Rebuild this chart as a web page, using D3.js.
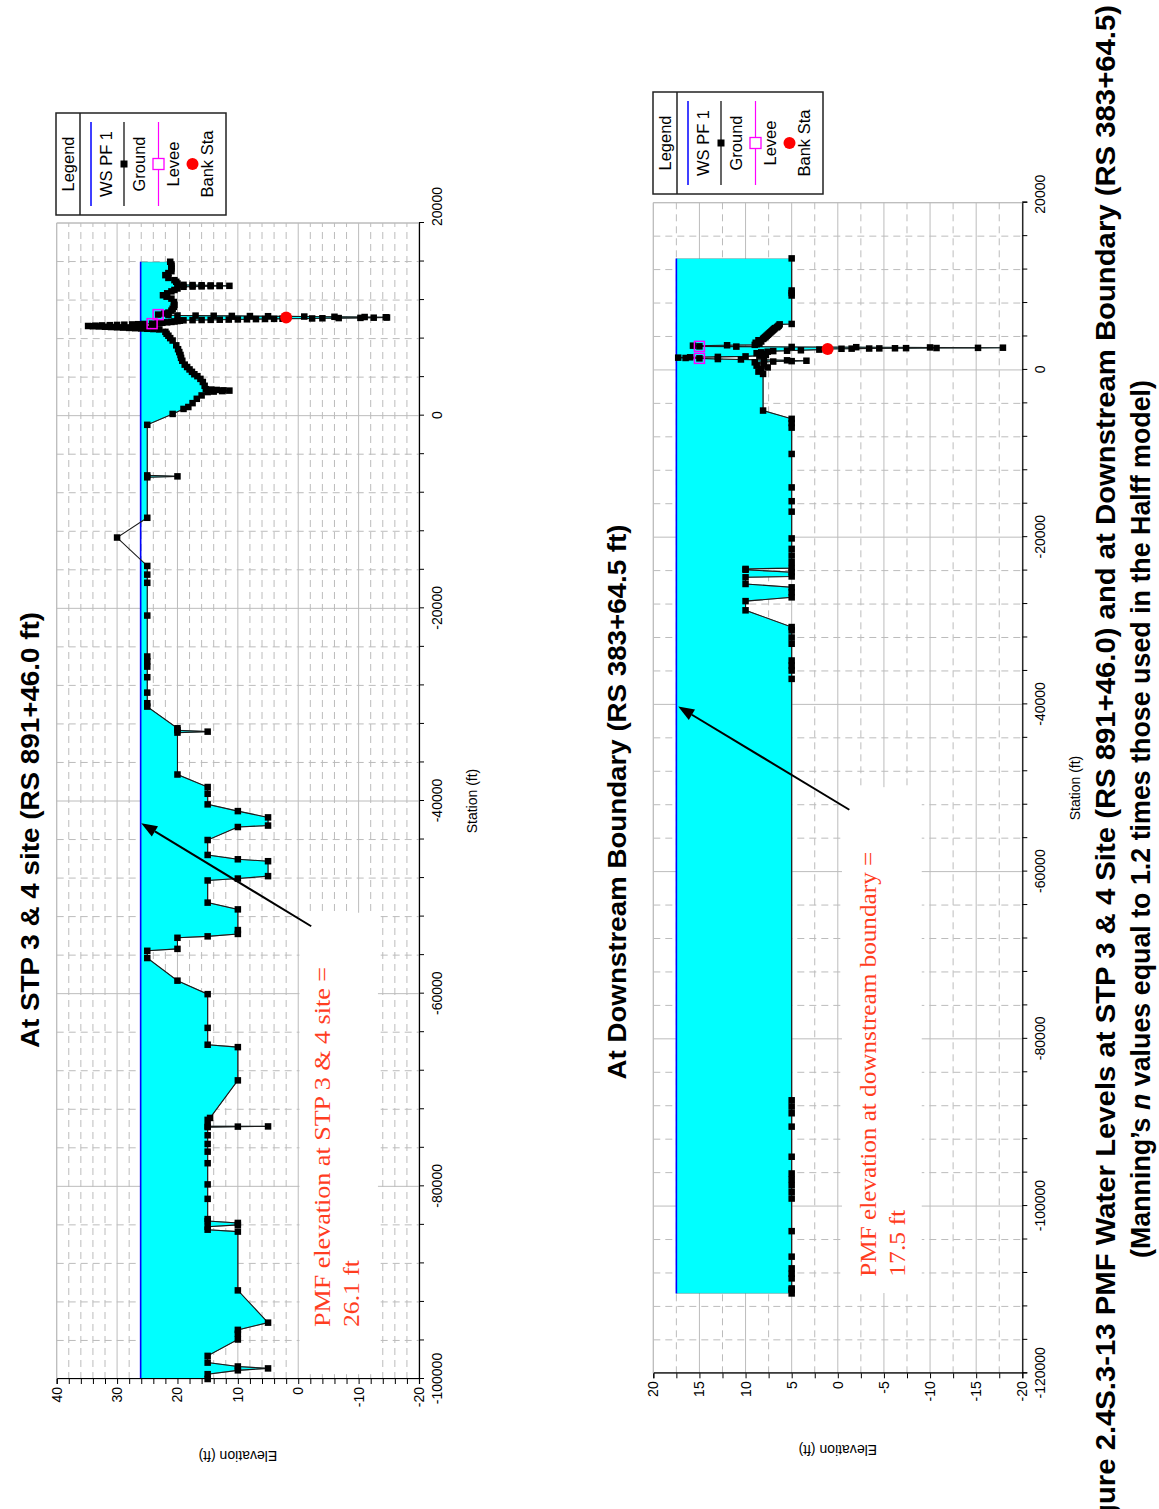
<!DOCTYPE html>
<html>
<head>
<meta charset="utf-8">
<script src="https://cdn.jsdelivr.net/npm/d3@7"></script>
<style>
  body { margin: 0; background: #ffffff; }
  svg { display: block; }
</style>
</head>
<body>
<svg id="fig" width="1159" height="1509" font-family="Arial, 'Liberation Sans', sans-serif"></svg>
<script>
// ---------------- STP 3 & 4 site cross section (RS 891+46.0) ----------------
// ground profile: [station ft, elevation ft]
const stpGround = [
  [-100000, 15], [-99500, 15], [-99100, 10], [-98900, 5], [-98700, 10], [-98300, 15], [-97600, 15],
  [-95900, 10], [-95300, 10], [-94900, 10], [-94150, 5], [-90800, 10],
  [-84700, 10], [-84500, 15], [-84200, 15], [-84000, 10], [-83800, 10], [-83600, 15], [-83400, 15],
  [-81300, 15], [-79800, 15], [-77600, 15], [-76400, 15], [-75600, 15], [-74700, 15],
  [-73850, 15], [-73800, 10], [-73780, 5], [-73760, 15],
  [-73100, 15], [-72900, 14.6], [-69000, 10], [-65550, 10], [-65300, 15], [-63550, 15], [-60050, 15],
  [-58650, 20], [-56300, 25], [-55550, 25], [-55350, 20], [-54200, 20], [-54050, 15],
  [-53800, 10], [-53400, 10], [-51250, 10], [-50550, 15], [-48250, 15],
  [-48050, 10], [-47800, 5], [-46250, 5], [-46050, 10], [-45600, 15], [-44050, 15],
  [-42700, 10], [-42550, 5], [-41700, 5], [-41050, 10], [-40350, 15], [-39250, 15], [-38550, 15],
  [-37250, 20], [-32900, 20], [-32800, 15], [-32650, 20], [-32450, 20],
  [-30200, 25], [-29850, 25], [-28750, 25], [-27150, 25], [-26050, 25], [-25500, 25], [-25000, 25], [-20750, 25],
  [-17350, 25], [-16500, 25], [-15600, 25], [-12650, 30], [-10600, 25],
  [-6400, 25], [-6300, 20], [-6200, 25], [-950, 25],
  [180, 20.8], [700, 19.0], [900, 18.2], [1300, 17.5], [1750, 16.8], [2100, 16.0],
  [2450, 15.0], [2500, 14.0], [2550, 12.6], [2600, 11.4], [2630, 12.4], [2670, 13.5], [2710, 14.4], [2750, 15.3],
  [3100, 15.5], [3500, 15.8], [3820, 16.2], [4100, 16.7], [4300, 17.2], [4550, 17.6], [4800, 18.0],
  [5050, 18.4], [5300, 18.8], [5700, 19.2], [6000, 19.4], [6300, 19.5], [6600, 19.7], [6900, 19.9],
  [7300, 20.2], [7800, 20.8], [8050, 21.2], [8300, 21.5], [8500, 21.8], [8700, 22.0],
  [8950, 23.0], [8990, 24.0], [9020, 25.0], [9050, 26.0], [9080, 27.0], [9110, 28.0], [9140, 29.0],
  [9170, 30.0], [9200, 31.0], [9230, 32.0], [9260, 33.0], [9285, 34.0], [9310, 34.8],
  [9340, 33.6], [9370, 32.5], [9395, 31.2], [9420, 30.0], [9445, 28.8], [9470, 27.5], [9495, 26.5],
  [9520, 25.5], [9553, 24.2], [9600, 23.3], [9640, 22.5], [9690, 21.7], [9730, 21.0], [9780, 20.5], [9820, 20.0],
  [9860, 19.6], [9900, 19.0], [9915, 17.5], [9930, 16.0], [9945, 14.5], [9960, 13.0], [9975, 11.5], [9990, 10.0],
  [10005, 8.5], [10020, 7.0], [10035, 5.5], [10050, 4.0], [10065, 2.6], [10090, -2.3], [10110, -4.0],
  [10130, -6.7], [10150, -10.3], [10170, -12.5], [10190, -14.7], [10215, -14.5], [10240, -11.0],
  [10265, -6.0], [10290, -1.0], [10310, 2.0], [10325, 5.0], [10340, 8.0], [10355, 11.0], [10370, 14.0],
  [10385, 17.0], [10400, 20.0], [10440, 21.5], [10490, 23.2],
  [10600, 22.2], [10700, 21.5], [10900, 21.0], [11100, 20.8], [11300, 20.6], [11500, 20.5], [11800, 20.6],
  [12150, 21.0], [12350, 21.8], [12500, 22.4], [12700, 21.7], [12900, 21.0], [13050, 20.5], [13200, 20.0],
  [13380, 19.0], [13400, 17.5], [13420, 16.0], [13440, 14.5], [13460, 13.0], [13476, 11.4], [13500, 13.0],
  [13520, 14.5], [13540, 16.0], [13560, 17.5], [13580, 19.0],
  [13720, 20.0], [13900, 20.2], [14066, 20.5], [14300, 21.5], [14587, 22.0], [14800, 21.5], [15000, 21.0],
  [15278, 21.0], [15500, 21.0], [15700, 21.0], [15976, 21.2]
];
const stpLevees = [[9553, 24.2], [10490, 23.2]];
const stpBanks = [[10180, 2.0]];
const stpWsElev = 26.1;
const stpWsStations = [-100000, 15976];
const stpStationLabels = [-100000, -80000, -60000, -40000, -20000, 0, 20000];
const stpElevLabels = [-20, -10, 0, 10, 20, 30, 40];

// ---------------- Downstream boundary cross section (RS 383+64.5) ----------------
const dsGround = [
  [-110450, 5], [-110000, 5], [-109850, 5], [-108650, 5], [-108100, 5], [-107450, 5], [-106050, 5], [-103000, 5],
  [-99100, 5], [-98300, 5], [-97500, 5], [-96800, 5], [-96100, 5], [-94100, 5], [-90500, 5], [-88900, 5],
  [-88100, 5], [-87350, 5],
  [-36950, 5], [-35950, 5], [-35350, 5], [-34750, 5], [-32750, 5], [-32000, 5], [-31150, 5], [-30750, 5],
  [-28750, 10], [-27650, 10], [-27200, 5], [-26600, 5], [-26000, 5], [-25600, 10], [-24800, 10], [-24700, 5],
  [-24200, 5], [-23900, 10], [-23800, 10], [-23700, 5], [-23000, 5], [-22200, 5], [-21400, 5], [-20150, 5],
  [-16950, 5], [-15700, 5], [-14050, 5], [-10050, 5], [-6900, 5], [-6350, 5], [-5850, 5], [-4860, 8.1],
  [-480, 8.1], [-200, 8.6], [120, 8.3], [300, 7.6], [514, 8.8], [700, 8.0], [908, 9.0],
  [1000, 7.0], [1050, 5.0], [1100, 3.4], [1150, 5.5], [1200, 8.0], [1250, 10.5], [1300, 13.0], [1386, 15.0],
  [1430, 16.5], [1470, 17.3], [1510, 16.0], [1560, 13.0], [1620, 10.0], [1700, 8.5], [1800, 7.8], [1912, 8.0],
  [2000, 8.8], [2100, 8.3], [2180, 7.6], [2250, 7.0], [2300, 5.5], [2350, 4.0], [2430, 2.0], [2510, 1.1],
  [2530, -0.4], [2545, -1.5], [2560, -3.4], [2575, -4.5], [2590, -6.2], [2605, -7.4], [2620, -10.7],
  [2640, -15.2], [2660, -17.9], [2690, -10.0], [2720, -2.0], [2750, 5.0], [2790, 11.0], [2820, 15.0],
  [2900, 15.7], [2950, 12.0], [3000, 9.0], [3080, 8.8], [3150, 8.5], [3250, 8.9], [3400, 8.3], [3550, 8.6],
  [3705, 8.1], [3800, 8.0], [3900, 7.9], [4000, 7.8], [4100, 7.7], [4200, 7.6], [4300, 7.5], [4400, 7.4],
  [4500, 7.3], [4600, 7.2], [4700, 7.1], [4800, 7.0], [4900, 6.9], [5000, 6.8], [5100, 6.6], [5200, 6.5],
  [5300, 6.4], [5450, 6.3], [5500, 5.0],
  [8900, 5], [9200, 5], [9500, 5], [13340, 5]
];
const dsLevees = [[1386, 15.0], [2820, 15.0]];
const dsBanks = [[2510, 1.1]];
const dsWsElev = 17.5;
const dsWsStations = [-110450, 13340];
const dsStationLabels = [-120000, -100000, -80000, -60000, -40000, -20000, 0, 20000];
const dsElevLabels = [-20, -15, -10, -5, 0, 5, 10, 15, 20];

const svg = d3.select('#fig');
const GRID = '#bcbcbc';
const NOTE = '#ff3d1f';
const SERIF = '"Liberation Serif", "Times New Roman", serif';

// Each panel is laid out in its own unrotated frame (station along x, elevation up)
// and then turned a quarter-turn counter-clockwise onto the page.
function drawPanel(p) {
  const W = p.bottom - p.top;   // station axis length
  const H = p.right - p.left;   // elevation axis length
  const x = d3.scaleLinear().domain(p.stationDomain).range([0, W]);
  const y = d3.scaleLinear().domain(p.elevDomain).range([H, 0]);
  const g = svg.append('g').attr('transform', `translate(${p.left},${p.bottom}) rotate(-90)`);

  // grid: dashed minor, solid major
  const sMinor = d3.range(p.stationDomain[0], p.stationDomain[1] + 1, p.stationMinor);
  const eMinor = d3.range(p.elevDomain[0], p.elevDomain[1] + 0.001, p.elevMinor);
  const grid = g.append('g');
  grid.selectAll('.sg').data(sMinor).join('line')
    .attr('x1', d => x(d)).attr('x2', d => x(d)).attr('y1', 0).attr('y2', H)
    .attr('stroke', GRID).attr('stroke-width', 1)
    .attr('stroke-dasharray', d => p.stationLabels.includes(d) ? null : '7,5');
  grid.selectAll('.eg').data(eMinor).join('line')
    .attr('y1', d => y(d)).attr('y2', d => y(d)).attr('x1', 0).attr('x2', W)
    .attr('stroke', GRID).attr('stroke-width', 1)
    .attr('stroke-dasharray', d => p.elevLabels.includes(d) ? null : '7,5');

  // white panel behind the annotation
  const nb = p.note.box;
  g.append('rect')
    .attr('x', x(nb.s0)).attr('width', x(nb.s1) - x(nb.s0))
    .attr('y', y(nb.e1)).attr('height', y(nb.e0) - y(nb.e1))
    .attr('fill', '#ffffff');

  // water between the WS line and the ground
  const clipId = p.id + '-water';
  g.append('clipPath').attr('id', clipId).append('rect')
    .attr('x', x(p.wsStations[0])).attr('width', x(p.wsStations[1]) - x(p.wsStations[0]))
    .attr('y', y(p.ws)).attr('height', H - y(p.ws));
  const water = d3.area().x(d => x(d[0])).y0(y(p.ws)).y1(d => y(d[1]));
  g.append('path').datum(p.ground).attr('d', water)
    .attr('fill', '#00ffff').attr('stroke', '#5c8c8c').attr('stroke-width', 1)
    .attr('clip-path', `url(#${clipId})`);

  // WS PF 1
  const line = d3.line().x(d => x(d[0])).y(d => y(d[1]));
  g.append('path').datum(p.wsStations.map(s => [s, p.ws])).attr('d', line)
    .attr('fill', 'none').attr('stroke', '#0000ff').attr('stroke-width', 1.6);

  // ground
  g.append('path').datum(p.ground).attr('d', line)
    .attr('fill', 'none').attr('stroke', '#1a1a1a').attr('stroke-width', 1.1);
  const sq = 6.5;
  g.append('g').selectAll('rect').data(p.ground).join('rect')
    .attr('x', d => x(d[0]) - sq / 2).attr('y', d => y(d[1]) - sq / 2)
    .attr('width', sq).attr('height', sq).attr('fill', '#000000');

  // levees
  const lv = 10;
  g.append('g').selectAll('rect').data(p.levees).join('rect')
    .attr('x', d => x(d[0]) - lv / 2).attr('y', d => y(d[1]) - lv / 2)
    .attr('width', lv).attr('height', lv)
    .attr('fill', 'none').attr('stroke', '#ff00ff').attr('stroke-width', 1.5);

  // bank stations
  g.append('g').selectAll('circle').data(p.banks).join('circle')
    .attr('cx', d => x(d[0])).attr('cy', d => y(d[1])).attr('r', 6).attr('fill', '#ff0000');

  // axes
  const xAxis = d3.axisBottom(x).tickValues(sMinor).tickSize(5).tickPadding(8)
    .tickFormat(d => p.stationLabels.includes(d) ? String(d) : '');
  const gx = g.append('g').attr('transform', `translate(0,${H})`).call(xAxis);
  gx.selectAll('text').filter(d => d === p.stationDomain[1]).attr('dx', p.topLabelShift);
  const yAxis = d3.axisLeft(y).tickValues(eMinor).tickSize(5).tickPadding(3)
    .tickFormat(d => p.elevLabels.includes(d) ? String(d) : '');
  const gy = g.append('g').call(yAxis);
  [gx, gy].forEach(a => {
    a.attr('font-family', null).attr('font-size', null);
    a.select('.domain').attr('stroke', '#000').attr('stroke-width', 1.2);
    a.selectAll('.tick line').attr('stroke', '#000');
    a.selectAll('text').attr('font-size', 14).attr('fill', '#000');
  });
  // top and left frame edges
  g.append('line').attr('x1', W).attr('x2', W).attr('y1', 0).attr('y2', H).attr('stroke', GRID);
  g.append('line').attr('x1', 0).attr('x2', W).attr('y1', 0).attr('y2', 0).attr('stroke', GRID);

  // axis titles
  g.append('text').attr('x', W / 2).attr('y', H + 53).attr('text-anchor', 'middle')
    .attr('dominant-baseline', 'central').attr('font-size', 14).text('Station (ft)');
  g.append('text').attr('transform', `translate(-77,${H / 2}) rotate(-90)`).attr('text-anchor', 'middle')
    .attr('dominant-baseline', 'central').attr('font-size', 14).text('Elevation (ft)');

  // annotation
  const n = p.note;
  n.lines.forEach((ln, i) => {
    const t = g.append('text').attr('x', x(n.s)).attr('y', y(n.e[i]))
      .attr('dominant-baseline', 'central').attr('fill', NOTE)
      .attr('font-family', SERIF).attr('font-size', 24).text(ln);
    if (n.len[i]) t.attr('textLength', n.len[i]).attr('lengthAdjust', 'spacingAndGlyphs');
  });
  // arrow
  const a0 = [x(n.arrow[0][0]), y(n.arrow[0][1])];
  const a1 = [x(n.arrow[1][0]), y(n.arrow[1][1])];
  const ang = Math.atan2(a1[1] - a0[1], a1[0] - a0[0]);
  const L = 16, Wd = 6;
  const back = [a1[0] - L * Math.cos(ang), a1[1] - L * Math.sin(ang)];
  g.append('line').attr('x1', a0[0]).attr('y1', a0[1]).attr('x2', back[0]).attr('y2', back[1])
    .attr('stroke', '#000').attr('stroke-width', 2);
  g.append('path')
    .attr('d', `M${a1[0]},${a1[1]}L${back[0] - Wd * Math.sin(ang)},${back[1] + Wd * Math.cos(ang)}` +
      `L${back[0] + Wd * Math.sin(ang)},${back[1] - Wd * Math.cos(ang)}Z`)
    .attr('fill', '#000');
}

function drawLegend(left, top) {
  const lg = svg.append('g').attr('transform', `translate(${left},${top})`);
  const w = 170, h = 102, mid = h / 2;
  lg.append('rect').attr('width', w).attr('height', h).attr('fill', '#fff')
    .attr('stroke', '#222').attr('stroke-width', 1.5);
  lg.append('line').attr('x1', 24).attr('x2', 24).attr('y1', 0).attr('y2', h).attr('stroke', '#222').attr('stroke-width', 1.5);
  const label = (cx, s) => lg.append('text').attr('transform', `translate(${cx},${mid}) rotate(-90)`)
    .attr('text-anchor', 'middle').attr('dominant-baseline', 'central').attr('font-size', 16.5).text(s);
  label(11.5, 'Legend');
  // WS PF 1
  lg.append('line').attr('x1', 35).attr('x2', 35).attr('y1', 9).attr('y2', h - 9).attr('stroke', '#0000ff').attr('stroke-width', 1.5);
  label(49.5, 'WS PF 1');
  // Ground
  lg.append('line').attr('x1', 68).attr('x2', 68).attr('y1', 9).attr('y2', h - 9).attr('stroke', '#000').attr('stroke-width', 1.2);
  lg.append('rect').attr('x', 68 - 3.5).attr('y', mid - 3.5).attr('width', 7).attr('height', 7).attr('fill', '#000');
  label(82.5, 'Ground');
  // Levee
  lg.append('line').attr('x1', 102.5).attr('x2', 102.5).attr('y1', 9).attr('y2', h - 9).attr('stroke', '#ff00ff').attr('stroke-width', 1.2);
  lg.append('rect').attr('x', 102.5 - 5.5).attr('y', mid - 5.5).attr('width', 11).attr('height', 11)
    .attr('fill', '#fff').attr('stroke', '#ff00ff').attr('stroke-width', 1.3);
  label(116.5, 'Levee');
  // Bank Sta
  lg.append('circle').attr('cx', 136.5).attr('cy', mid).attr('r', 6).attr('fill', '#ff0000');
  label(151, 'Bank Sta');
}

function rotatedText(cx, cy, s, size, weight, len) {
  const t = svg.append('text').attr('transform', `translate(${cx},${cy}) rotate(-90)`)
    .attr('text-anchor', 'middle').attr('dominant-baseline', 'central')
    .attr('font-size', size).attr('font-weight', weight).text(s);
  if (len) t.attr('textLength', len).attr('lengthAdjust', 'spacingAndGlyphs');
  return t;
}

drawPanel({
  id: 'stp', left: 56.7, right: 419, top: 223, bottom: 1379,
  stationDomain: [-100000, 20000], elevDomain: [-20, 40],
  stationMinor: 4000, elevMinor: 2,
  stationLabels: stpStationLabels, elevLabels: stpElevLabels,
  ground: stpGround, levees: stpLevees, banks: stpBanks,
  ws: stpWsElev, wsStations: stpWsStations, topLabelShift: 16,
  note: {
    lines: ['PMF elevation at STP 3 & 4 site =', '26.1 ft'],
    len: [360, 67],
    s: -94600, e: [-4.0, -8.8],
    box: { s0: -99500, s1: -51600, e0: -13.2, e1: -0.2 },
    arrow: [[-53000, -2.15], [-42300, 26.0]]
  }
});
drawPanel({
  id: 'ds', left: 653.3, right: 1022.3, top: 202.7, bottom: 1373.3,
  stationDomain: [-120000, 20000], elevDomain: [-20, 20],
  stationMinor: 4000, elevMinor: 2.5,
  stationLabels: dsStationLabels, elevLabels: dsElevLabels,
  ground: dsGround, levees: dsLevees, banks: dsBanks,
  ws: dsWsElev, wsStations: dsWsStations, topLabelShift: 8,
  note: {
    lines: ['PMF elevation at downstream boundary =', '17.5 ft'],
    len: [425, 67],
    s: -108450, e: [-3.27, -6.41],
    box: { s0: -110400, s1: -49900, e0: -9.1, e1: -0.45 },
    arrow: [[-52600, -1.25], [-40250, 17.3]]
  }
});

drawLegend(56, 113);
drawLegend(653, 92);

// panel titles
rotatedText(30, 830, 'At STP 3 & 4 site (RS 891+46.0 ft)', 26, 'bold', 436);
rotatedText(617, 802, 'At Downstream Boundary (RS 383+64.5 ft)', 25, 'bold', 555);

// figure caption
svg.append('text').attr('transform', 'translate(1105,1548) rotate(-90)')
  .attr('dominant-baseline', 'central').attr('font-size', 28).attr('font-weight', 'bold')
  .attr('textLength', 1543).attr('lengthAdjust', 'spacingAndGlyphs')
  .text('Figure 2.4S.3-13  PMF Water Levels at STP 3 & 4 Site (RS 891+46.0) and at Downstream Boundary (RS 383+64.5)');
const cap2 = svg.append('text').attr('transform', 'translate(1140,819) rotate(-90)')
  .attr('text-anchor', 'middle').attr('dominant-baseline', 'central')
  .attr('font-size', 28).attr('font-weight', 'bold')
  .attr('textLength', 878).attr('lengthAdjust', 'spacingAndGlyphs');
cap2.append('tspan').text('(Manning\u2019s ');
cap2.append('tspan').attr('font-style', 'italic').text('n');
cap2.append('tspan').text(' values equal to 1.2 times those used in the Halff model)');
</script>
</body>
</html>
